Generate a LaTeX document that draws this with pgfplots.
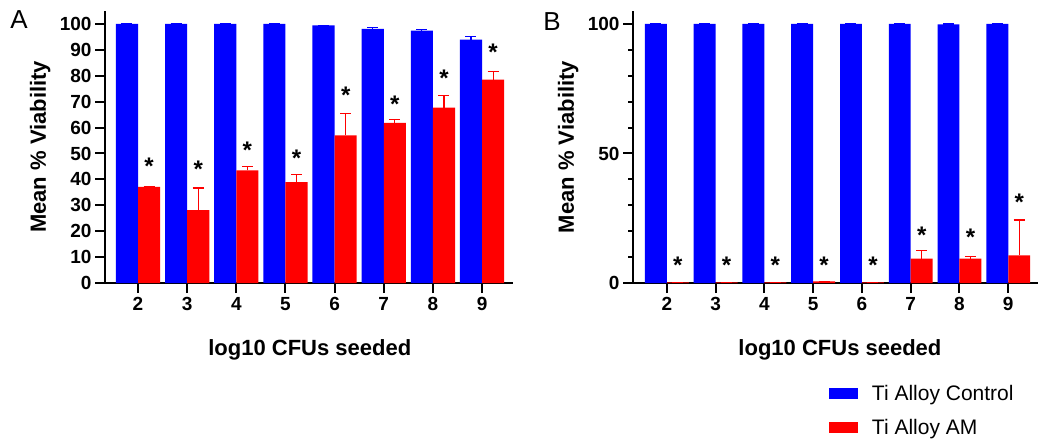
\documentclass[border=0pt]{standalone}
\usepackage{pgfplots}
\pgfplotsset{compat=1.18}
\usepackage{fontspec}
\setmainfont{Liberation Sans}
\definecolor{barblue}{HTML}{0000FF}
\definecolor{barred}{HTML}{FF0000}
\pgfplotsset{
  panel/.style={
    scale only axis, width=408pt, height=272pt,
    xmin=1.328, xmax=9.63, ymin=0, ymax=105,
    axis x line*=bottom, axis y line*=left,
    axis line style={line width=2.2pt},
    every tick/.style={line width=2pt, black},
    tick align=outside,
    major tick length=10pt, minor tick length=5pt,
    xtick={2,...,9},
    /pgf/number format/assume math mode=true,
    ticklabel style={font=\bfseries\fontsize{19}{19}\selectfont},
    xticklabel style={yshift=-1pt},
    label style={font=\bfseries\fontsize{22}{22}\selectfont},
    xlabel={log10 CFUs seeded},
    ylabel={Mean \%\ Viability},
    clip=false,
  },
  ctrl/.style={ybar, bar width=0.45, bar shift=0, fill=barblue, draw=none,
    error bars/.cd, y dir=plus, y explicit,
    error bar style={line width=1.2pt, barblue},
    error mark options={rotate=90, line width=1.2pt, mark size=5.5pt, barblue}},
  am/.style={ybar, bar width=0.45, bar shift=0, fill=barred, draw=none,
    error bars/.cd, y dir=plus, y explicit,
    error bar style={line width=1.2pt, barred},
    error mark options={rotate=90, line width=1.2pt, mark size=5.5pt, barred}},
  stars/.style={only marks, black, mark=text, text mark={*}, text mark as node=true,
    text mark style={font=\bfseries\fontsize{24}{24}\selectfont}, forget plot},
}
\begin{document}
\begin{tikzpicture}
\path[use as bounding box] (0pt,0pt) rectangle (1040pt,-445pt);
\node[font=\fontsize{26}{26}\selectfont] at (19pt,-20pt) {A};
\node[font=\fontsize{26}{26}\selectfont] at (552pt,-22pt) {B};
% Panel A
\begin{axis}[panel, at={(105pt,-283pt)}, anchor=south west,
  ytick={0,10,...,100},
  ylabel style={at={(axis description cs:-0.159,0.5)}, anchor=center},
  xlabel style={at={(axis description cs:0.502,-0.246)}, anchor=center}]
\addplot[ctrl] table[x=x, y=y, y error=e] {
x y e
1.775 100 0
2.775 100 0
3.775 100 0
4.775 100 0
5.775 99.5 0
6.775 98.1 0.6
7.775 97.4 0.5
8.775 94.0 1.1
};
\addplot[am] table[x=x, y=y, y error=e] {
x y e
2.225 37.1 0.3
3.225 28.1 8.6
4.225 43.5 1.5
5.225 38.9 3.1
6.225 57.0 8.4
7.225 61.8 1.3
8.225 67.7 4.6
9.225 78.5 3.2
};
\addplot[stars] coordinates {
(2.225,45) (3.225,44) (4.225,51.4) (5.225,48) (6.225,72.4) (7.225,69.2) (8.225,79) (9.225,89)
};
\end{axis}
% Panel B
\begin{axis}[panel, width=405pt, xmin=1.306, xmax=9.61, at={(633pt,-283pt)}, anchor=south west,
  ytick={0,50,100}, minor y tick num=4,
  ylabel style={at={(axis description cs:-0.160,0.5)}, anchor=center},
  xlabel style={at={(axis description cs:0.511,-0.246)}, anchor=center},
  legend style={at={(rel axis cs:0.476,-0.36)}, anchor=north west, draw=none, fill=none,
    font=\fontsize{21}{21}\selectfont, row sep=13pt,
    /tikz/every odd column/.append style={column sep=12pt}},
  legend cell align=left,
  legend image code/.code={\path[#1,draw=none] (0pt,-5.5pt) rectangle (29pt,5.5pt);}]
\addplot[ctrl] table[x=x, y=y, y error=e] {
x y e
1.775 100 0
2.775 100 0
3.775 100 0
4.775 100 0
5.775 100 0
6.775 100 0
7.775 99.8 0.2
8.775 100 0
};
\addlegendentry{Ti Alloy Control}
\addplot[am] table[x=x, y=y, y error=e] {
x y e
2.225 0.2 0
3.225 0.2 0
4.225 0.2 0
5.225 0.6 0
6.225 0.2 0
7.225 9.4 3.0
8.225 9.4 0.7
9.225 10.7 13.6
};
\addlegendentry{Ti Alloy AM}
\addplot[stars] coordinates {
(2.225,7) (3.225,7) (4.225,7) (5.225,7) (6.225,7) (7.225,18.6) (8.225,17.7) (9.225,31.3)
};
\end{axis}
\end{tikzpicture}
\end{document}
